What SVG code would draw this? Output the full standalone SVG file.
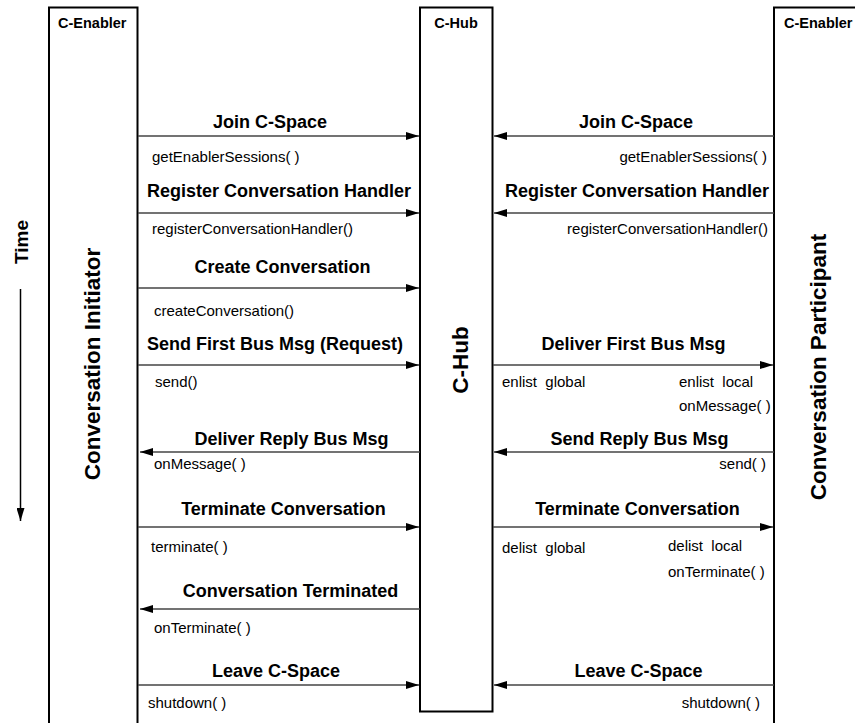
<svg xmlns="http://www.w3.org/2000/svg" width="855" height="723" viewBox="0 0 855 723">
<style>
.box{fill:#fff;stroke:#000;stroke-width:2}
.hdr{font-family:"Liberation Sans",Arial,sans-serif;font-weight:bold;font-size:14.5px;fill:#000}
.vt{font-family:"Liberation Sans",Arial,sans-serif;font-weight:bold;font-size:22.5px;fill:#000;text-anchor:middle}
.lbl{font-family:"Liberation Sans",Arial,sans-serif;font-weight:bold;font-size:18px;fill:#000;text-anchor:middle}
.sub{font-family:"Liberation Sans",Arial,sans-serif;font-size:15px;fill:#000}
.end{text-anchor:end}
.msg{stroke:#444;stroke-width:1.5;fill:none;marker-end:url(#ah)}
</style>
<defs>
<marker id="ah" viewBox="0 0 13 8" refX="13" refY="4" markerWidth="13" markerHeight="8" orient="auto" markerUnits="userSpaceOnUse">
<path d="M0,0 L13,4 L0,8 z" fill="#000"/>
</marker>
</defs>
<rect width="855" height="723" fill="#fff"/>

<g id="time">
<text class="lbl" transform="translate(28,242) rotate(-90)" style="font-size:19px">Time</text>
<line x1="20.5" y1="289" x2="20.5" y2="521" stroke="#000" stroke-width="1.5" marker-end="url(#ah)"/>
</g>

<g id="initiator">
<path class="box" d="M49,730 V7.5 H137.5 V730"/>
<text class="hdr" x="58" y="28">C-Enabler</text>
<text class="vt" transform="translate(100,364) rotate(-90)">Conversation Initiator</text>
</g>

<g id="hub">
<rect class="box" x="420" y="7.5" width="72.5" height="704"/>
<text class="hdr" x="456" y="28" text-anchor="middle">C-Hub</text>
<text class="vt" transform="translate(468,360) rotate(-90)">C-Hub</text>
</g>

<g id="participant">
<path class="box" d="M774,730 V7.5 H862"/>
<text class="hdr" x="784" y="28">C-Enabler</text>
<text class="vt" transform="translate(826,367) rotate(-90)">Conversation Participant</text>
</g>

<g id="connectors">
<line class="msg" x1="138" y1="136" x2="419" y2="136"/>
<line class="msg" x1="774" y1="136" x2="494" y2="136"/>
<line class="msg" x1="138" y1="213" x2="419" y2="213"/>
<line class="msg" x1="774" y1="213" x2="494" y2="213"/>
<line class="msg" x1="138" y1="288" x2="419" y2="288"/>
<line class="msg" x1="138" y1="365" x2="419" y2="365"/>
<line class="msg" x1="493" y1="365" x2="773" y2="365"/>
<line class="msg" x1="420" y1="452" x2="140" y2="452"/>
<line class="msg" x1="774" y1="452" x2="494" y2="452"/>
<line class="msg" x1="138" y1="527" x2="419" y2="527"/>
<line class="msg" x1="493" y1="527" x2="773" y2="527"/>
<line class="msg" x1="420" y1="609" x2="140" y2="609"/>
<line class="msg" x1="138" y1="685" x2="419" y2="685"/>
<line class="msg" x1="774" y1="685" x2="494" y2="685"/>
</g>

<g id="labels">
<text class="lbl" x="270" y="128">Join C-Space</text>
<text class="lbl" x="636" y="128">Join C-Space</text>
<text class="sub" x="152" y="162">getEnablerSessions( )</text>
<text class="sub end" x="767" y="162">getEnablerSessions( )</text>

<text class="lbl" x="279" y="197">Register Conversation Handler</text>
<text class="lbl" x="637" y="197">Register Conversation Handler</text>
<text class="sub" x="152" y="234">registerConversationHandler()</text>
<text class="sub end" x="768" y="234">registerConversationHandler()</text>

<text class="lbl" x="282.5" y="273">Create Conversation</text>
<text class="sub" x="154" y="316">createConversation()</text>

<text class="lbl" x="275" y="350">Send First Bus Msg (Request)</text>
<text class="sub" x="155" y="387">send()</text>
<text class="lbl" x="633.5" y="350">Deliver First Bus Msg</text>
<text class="sub" x="502" y="387" xml:space="preserve">enlist  global</text>
<text class="sub" x="679" y="387" xml:space="preserve">enlist  local</text>
<text class="sub" x="679" y="411">onMessage( )</text>

<text class="lbl" x="291.5" y="445">Deliver Reply Bus Msg</text>
<text class="sub" x="154" y="469">onMessage( )</text>
<text class="lbl" x="639.5" y="445">Send Reply Bus Msg</text>
<text class="sub end" x="766" y="469">send( )</text>

<text class="lbl" x="283.5" y="515">Terminate Conversation</text>
<text class="sub" x="151" y="552">terminate( )</text>
<text class="lbl" x="637.5" y="515">Terminate Conversation</text>
<text class="sub" x="502" y="553" xml:space="preserve">delist  global</text>
<text class="sub" x="668" y="551" xml:space="preserve">delist  local</text>
<text class="sub" x="668" y="577">onTerminate( )</text>

<text class="lbl" x="290.5" y="597">Conversation Terminated</text>
<text class="sub" x="154" y="633">onTerminate( )</text>

<text class="lbl" x="276" y="677">Leave C-Space</text>
<text class="sub" x="148" y="708">shutdown( )</text>
<text class="lbl" x="638.5" y="677">Leave C-Space</text>
<text class="sub end" x="760" y="708">shutdown( )</text>
</g>
</svg>
